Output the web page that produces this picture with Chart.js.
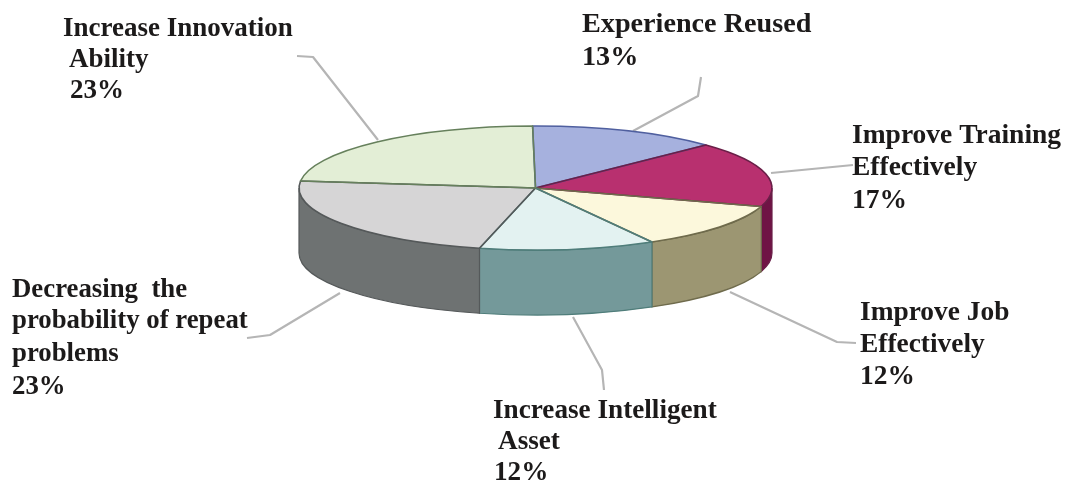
<!DOCTYPE html>
<html><head><meta charset="utf-8">
<style>html,body{margin:0;padding:0;background:#fff}#w{width:1067px;height:485px;position:relative}</style>
<script src="https://cdn.jsdelivr.net/npm/chart.js@4"></script>
</head><body><div id="w"><canvas id="c"></canvas></div>
<script>
const categories = ["Experience Reused","Improve Training Effectively","Improve Job Effectively","Increase Intelligent Asset","Decreasing the probability of repeat problems","Increase Innovation Ability"];
const shares = [13,17,12,12,23,23];
const topColors = ["#a6b1de","#b8306f","#fcf8dc","#e3f2f1","#d6d5d6","#e3eed6"];
const sideColors = ["#747da0","#6f1345","#9c9672","#74999a","#6e7272","#a0a896"];
const edgeColors = ["#4f5f9f","#6a1f48","#6f6b4c","#4f7d7a","#55595a","#66805c"];
const labelBlocks = [
  {size:27,   lines:["Increase Innovation","Ability","23%"], x:[63,69,70], y:[36,67,98]},
  {size:28.2, lines:["Experience Reused","13%"], x:[582,582], y:[32,65]},
  {size:27.5, lines:["Improve Training","Effectively","17%"], x:[852,852,852], y:[143,175,208]},
  {size:27.4, lines:["Improve Job","Effectively","12%"], x:[860,860,860], y:[320,352,384]},
  {size:27.2, lines:["Increase Intelligent","Asset","12%"], x:[493,498,494], y:[418,449,480]},
  {size:26.8, lines:["Decreasing  the","probability of repeat","problems","23%"], x:[12,12,12,12], y:[297,328,361,394]}
];
const leaders = [
  [[297,56],[313,57],[378,140]],
  [[701,77],[698,96],[633,131]],
  [[771,173],[853,165]],
  [[730,292],[837,342],[856,343]],
  [[573,317],[602,370],[604,390]],
  [[340,293],[270,335],[247,338]]
];
const CX=535.5, CY=188, RX=236.5, RY=62, DEPTH=65;

function frontRange(a0,a1){ // canvas angles, part within lower half
  const out=[];
  for(const k of [-1,0,1]){
    const lo=Math.max(a0,k*2*Math.PI), hi=Math.min(a1,k*2*Math.PI+Math.PI);
    if(hi>lo) out.push([lo,hi]);
  }
  return out;
}
const pie3d = {
  id:'pie3d',
  beforeDatasetsDraw(chart){
    const ctx=chart.ctx, arcs=chart.getDatasetMeta(0).data;
    ctx.save();
    ctx.filter='blur(0.6px)';
    ctx.strokeStyle='#b5b5b5'; ctx.lineWidth=2.2; ctx.lineJoin='round';
    leaders.forEach(l=>{ctx.beginPath();l.forEach((p,i)=>i?ctx.lineTo(p[0],p[1]):ctx.moveTo(p[0],p[1]));ctx.stroke();});
    ctx.restore();
    ctx.save();
    ctx.filter='blur(0.5px)';
    arcs.forEach((a,i)=>{
      frontRange(a.startAngle,a.endAngle).forEach(([s,e])=>{
        ctx.beginPath();
        ctx.ellipse(CX,CY,RX,RY,0,s,e);
        ctx.ellipse(CX,CY+DEPTH,RX,RY,0,e,s,true);
        ctx.closePath();
        ctx.fillStyle=sideColors[i]; ctx.fill();
        ctx.strokeStyle=edgeColors[i]; ctx.lineWidth=1.2; ctx.stroke();
      });
    });
    ctx.restore();
    const a0=arcs[0];
    ctx.save();
    ctx.translate(CX,CY);
    ctx.scale(RX/a0.outerRadius,RY/a0.outerRadius);
    ctx.translate(-a0.x,-a0.y);
  },
  afterDatasetsDraw(chart){
    const ctx=chart.ctx, arcs=chart.getDatasetMeta(0).data;
    ctx.restore();
    ctx.save();
    ctx.filter='blur(0.6px)';
    arcs.forEach((a,i)=>{
      ctx.beginPath();
      ctx.moveTo(CX,CY);
      ctx.ellipse(CX,CY,RX,RY,0,a.startAngle,a.endAngle);
      ctx.closePath();
      ctx.strokeStyle=edgeColors[i]; ctx.lineWidth=1.6; ctx.lineJoin='round'; ctx.stroke();
    });
    ctx.restore();
  },
  afterDraw(chart){
    const ctx=chart.ctx;
    ctx.save();
    ctx.filter='blur(0.3px)';
    ctx.fillStyle='#1c1a1a'; ctx.textBaseline='alphabetic';
    labelBlocks.forEach(b=>{
      ctx.font='bold '+b.size+'px "Liberation Serif"';
      b.lines.forEach((t,i)=>ctx.fillText(t,b.x[i],b.y[i]));
    });
    ctx.restore();
  }
};
new Chart(document.getElementById('c'),{
  type:'pie',
  data:{labels:categories,datasets:[{data:shares,backgroundColor:topColors,borderWidth:0,clip:false}]},
  options:{responsive:true,maintainAspectRatio:false,animation:false,rotation:-0.7,
    plugins:{legend:{display:false},tooltip:{enabled:false},title:{display:false}}},
  plugins:[pie3d]
});
</script></body></html>
